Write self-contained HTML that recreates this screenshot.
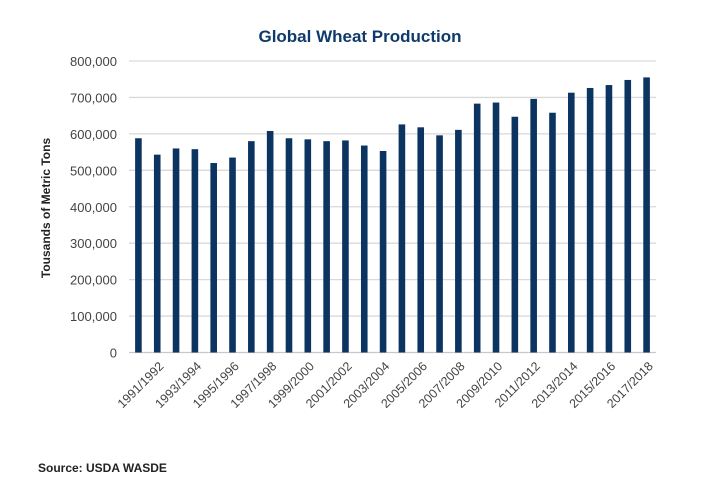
<!DOCTYPE html>
<html><head><meta charset="utf-8"><style>
body{margin:0;background:#fff;font-family:"Liberation Sans",sans-serif}
svg{display:block}
</style></head><body>
<svg id="chart" width="720" height="500">
<text x="360" y="42" text-anchor="middle" font-size="17" font-weight="bold" fill="#0f3a6b">Global Wheat Production</text>
<text transform="translate(50,208) rotate(-90)" text-anchor="middle" font-size="12" font-weight="bold" fill="#222">Tousands of Metric Tons</text>
<text x="38" y="472" font-size="12" font-weight="bold" fill="#222">Source: USDA WASDE</text>
<g id="grid"></g><g id="bars"></g><g id="labels"></g>
</svg>
<script>
const categories=["1991/1992","1992/1993","1993/1994","1994/1995","1995/1996","1996/1997","1997/1998","1998/1999","1999/2000","2000/2001","2001/2002","2002/2003","2003/2004","2004/2005","2005/2006","2006/2007","2007/2008","2008/2009","2009/2010","2010/2011","2011/2012","2012/2013","2013/2014","2014/2015","2015/2016","2016/2017","2017/2018","2018/2019"];
const values=[588000,543000,560000,558000,520000,535000,580000,608000,588000,585000,580000,582000,568000,553000,626000,618000,596000,611000,683000,686000,647000,696000,658000,713000,726000,734000,748000,755000];
const yTicks=[0,100000,200000,300000,400000,500000,600000,700000,800000];
const shownLabels=["1991/1992","1993/1994","1995/1996","1997/1998","1999/2000","2001/2002","2003/2004","2005/2006","2007/2008","2009/2010","2011/2012","2013/2014","2015/2016","2017/2018"];
const NS="http://www.w3.org/2000/svg";
const x0=129,x1=656,yTop=61,yBot=352.5,yMax=800000;
const band=(x1-x0)/categories.length;
const xs=i=>x0+band*(i+0.5);
const ys=v=>yBot-(v/yMax)*(yBot-yTop);
const g=document.getElementById('grid'),b=document.getElementById('bars'),l=document.getElementById('labels');
yTicks.forEach(t=>{
 const ln=document.createElementNS(NS,'line');
 ln.setAttribute('x1',x0);ln.setAttribute('x2',x1);ln.setAttribute('y1',ys(t));ln.setAttribute('y2',ys(t));
 ln.setAttribute('stroke',t===0?'#c8c8c8':'#d9d9d9');ln.setAttribute('stroke-width','1.3');
 
 
 g.appendChild(ln);
 const tx=document.createElementNS(NS,'text');
 tx.setAttribute('x',117);tx.setAttribute('y',ys(t)+5);tx.setAttribute('text-anchor','end');
 tx.setAttribute('font-size','13');tx.setAttribute('fill','#444');
 tx.textContent=t===0?'0':t.toLocaleString('en-US');
 
 
 g.appendChild(tx);
});
values.forEach((v,i)=>{
 const r=document.createElementNS(NS,'rect');
 r.setAttribute('x',xs(i)-3.3);r.setAttribute('width',6.6);
 r.setAttribute('y',ys(v));r.setAttribute('height',yBot-ys(v));
 r.setAttribute('fill','#0c3461');
 
 
 b.appendChild(r);
});
categories.forEach((c,i)=>{
 if(!shownLabels.includes(c))return;
 const tx=document.createElementNS(NS,'text');
 const ax=xs(i)+26,ay=367;
 tx.setAttribute('x',ax);tx.setAttribute('y',ay);tx.setAttribute('text-anchor','end');
 tx.setAttribute('transform','rotate(-45 '+ax+' '+ay+')');
 tx.setAttribute('font-size','12.5');tx.setAttribute('fill','#444');
 tx.textContent=c;
 
 
 l.appendChild(tx);
});
</script>
</body></html>
